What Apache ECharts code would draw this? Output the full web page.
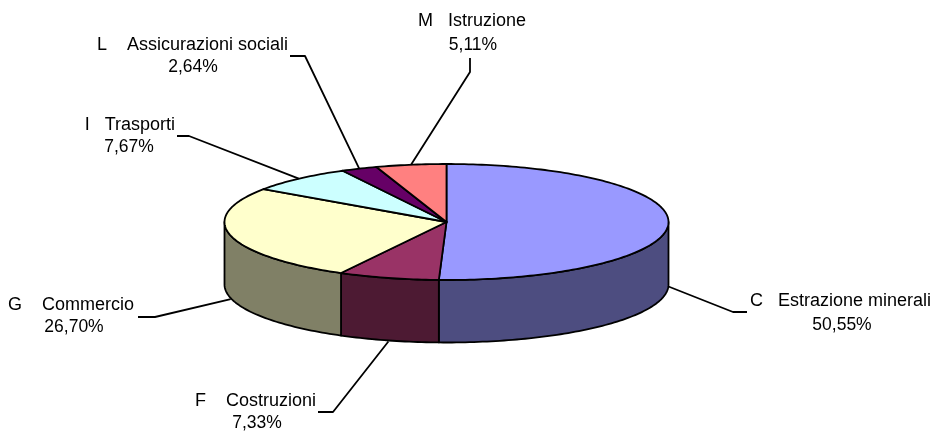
<!DOCTYPE html>
<html>
<head>
<meta charset="utf-8">
<style>html,body{margin:0;padding:0;background:#fff}#c{width:934px;height:432px}</style>
<script src="https://cdn.jsdelivr.net/npm/echarts@6/dist/echarts.min.js"></script>
</head>
<body>
<div id="c"></div>
<script>
var categories = ['C   Estrazione minerali', 'F    Costruzioni', 'G    Commercio', 'I   Trasporti', 'L    Assicurazioni sociali', 'M   Istruzione'];
var shares = [50.55, 7.33, 26.70, 7.67, 2.64, 5.11];

var topColors = ['#9999FF', '#993366', '#FFFFCC', '#CCFFFF', '#660066', '#FF8080'];
var sideColors = ['#4D4D80', '#4D1A33', '#808066', '#668080', '#330033', '#804040'];

// Pie geometry on the page
var CX = 446.5, CY = 222, RX = 222, RY = 58, DEPTH = 62.5;
// Label layout: leader elbow, leader end, name anchor, percent centre
var labelLayout = [
  {elbow: [733, 312], end: [747, 312], nameX: 750, nameY: 301, nameAlign: 'left',  pctX: 842, pctY: 325},
  {elbow: [333, 412], end: [318, 412], nameX: 316, nameY: 401, nameAlign: 'right', pctX: 257, pctY: 423},
  {elbow: [155, 317], end: [138, 317], nameX: 134, nameY: 305, nameAlign: 'right', pctX: 74,  pctY: 327},
  {elbow: [189, 136], end: [177, 136], nameX: 175, nameY: 125, nameAlign: 'right', pctX: 129, pctY: 147},
  {elbow: [305, 56],  end: [290, 56],  nameX: 288, nameY: 45,  nameAlign: 'right', pctX: 193, pctY: 67},
  {elbow: [470, 72],  end: [470, 58],  nameX: 526, nameY: 21,  nameAlign: 'right', pctX: 473, pctY: 45}
];
var NAME_FONT = '18px "Liberation Sans", Arial, sans-serif';
var PCT_FONT = '17.5px "Liberation Sans", Arial, sans-serif';
var LINE = {stroke: '#000', lineWidth: 1.8, lineJoin: 'round', fill: null};

var total = shares.reduce(function (a, b) { return a + b; }, 0);
var starts = [];
shares.reduce(function (acc, v, i) { starts[i] = acc; return acc + v; }, 0);

function ang(share) { return share / total * 2 * Math.PI; }
function pt(t, dy) { return [CX + RX * Math.sin(t), CY - RY * Math.cos(t) + (dy || 0)]; }
function arc(a, b, dy) {
  var pts = [], n = Math.max(2, Math.ceil(Math.abs(b - a) / 0.02));
  for (var i = 0; i <= n; i++) pts.push(pt(a + (b - a) * i / n, dy));
  return pts;
}

function renderSide(params, api) {
  var i = api.value(0), a = ang(starts[i]), b = a + ang(api.value(1));
  var lo = Math.max(a, Math.PI / 2), hi = Math.min(b, 3 * Math.PI / 2);
  if (hi <= lo) return null;
  var pts = arc(lo, hi, 0).concat(arc(hi, lo, DEPTH));
  return {type: 'polygon', shape: {points: pts},
    style: {fill: sideColors[i], stroke: '#000', lineWidth: 1.8, lineJoin: 'round'}};
}
function renderTop(params, api) {
  var i = api.value(0), a = ang(starts[i]), b = a + ang(api.value(1));
  var pts = [[CX, CY]].concat(arc(a, b, 0));
  return {type: 'polygon', shape: {points: pts},
    style: {fill: topColors[i], stroke: '#000', lineWidth: 1.8, lineJoin: 'round'}};
}
function renderLabel(params, api) {
  var i = api.value(0), v = api.value(1), L = labelLayout[i];
  var mid = ang(starts[i] + v / 2);
  var front = Math.cos(mid) < 0;
  var start = pt(mid, front ? DEPTH + 1 : 0);
  return {type: 'group', children: [
    {type: 'polyline', shape: {points: [start, L.elbow, L.end]}, style: LINE},
    {type: 'text', style: {text: categories[i], x: L.nameX, y: L.nameY, align: L.nameAlign,
      verticalAlign: 'middle', font: NAME_FONT, fill: '#000'}},
    {type: 'text', style: {text: v.toFixed(2).replace('.', ',') + '%', x: L.pctX, y: L.pctY, align: 'center',
      verticalAlign: 'middle', font: PCT_FONT, fill: '#000'}}
  ]};
}

var rows = shares.map(function (v, i) { return [i, v]; });
var chart = echarts.init(document.getElementById('c'), null, {renderer: 'canvas'});
chart.setOption({
  animation: false,
  backgroundColor: '#fff',
  series: [
    {type: 'custom', coordinateSystem: 'none', z: 1, data: rows, renderItem: renderSide, silent: true},
    {type: 'custom', coordinateSystem: 'none', z: 2, data: rows, renderItem: renderTop, silent: true},
    {type: 'custom', coordinateSystem: 'none', z: 3, data: rows, renderItem: renderLabel, silent: true}
  ]
});
</script>
</body>
</html>
